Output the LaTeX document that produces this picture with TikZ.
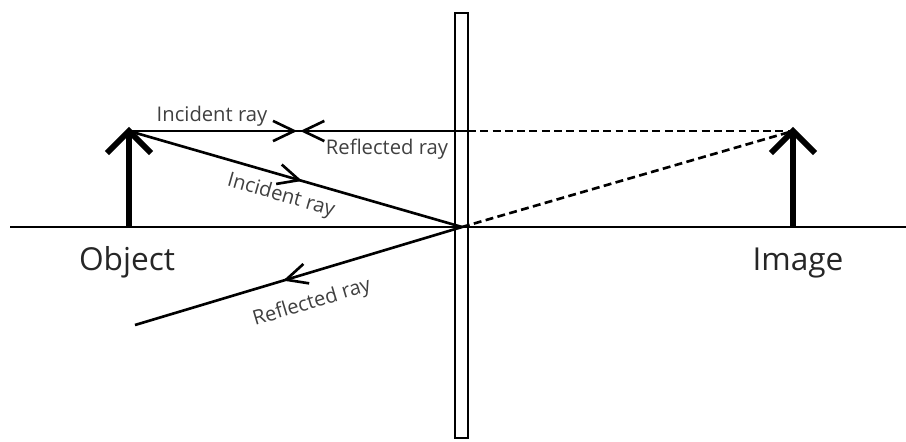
\documentclass[tikz,border=0pt]{standalone}
\usepackage{fontspec}
\setmainfont{Open Sans}
\usetikzlibrary{arrows.meta,decorations.markings}

\tikzset{
  ray/.style={line width=1.5pt},
  virtual/.style={line width=1.5pt, dash pattern=on 4.5pt off 2.5pt},
  stem/.style={line width=3.4pt},
  raylabel/.style={font=\fontsize{11.5}{13}\selectfont, text=black!75, inner sep=0pt},
  bigtext/.style={font=\fontsize{18}{21}\selectfont, text=black!85, inner sep=0pt, anchor=base},
  fwd/.style={postaction={decorate, decoration={markings,
      mark=at position #1 with {\arrow[line width=1.5pt]{Straight Barb[length=12pt,width=11.5pt]}}}}},
  bwd/.style={postaction={decorate, decoration={markings,
      mark=at position #1 with {\arrowreversed[line width=1.5pt]{Straight Barb[length=12pt,width=11.5pt]}}}}}
}

\begin{document}
\begin{tikzpicture}[x=0.02cm, y=-0.02cm]
  \useasboundingbox (0,0) rectangle (906,441);

  % Specchio e asse
  \draw[line width=1.2pt] (455,13) rectangle (468,438);
  \draw[line width=1.2pt] (10,227) -- (906,227);

  % Punti
  \coordinate (objbase) at (129,227);
  \coordinate (objtip) at (129,131);
  \coordinate (imgbase) at (793,227);
  \coordinate (imgtip) at (793,131);
  \coordinate (pole) at (462,227);
  \coordinate (hit) at (468,131);
  \coordinate (back) at (135,325);

  % Raggi
  \draw[ray, fwd=0.496, bwd=0.505] (objtip) -- (hit);
  \draw[virtual] (hit) -- (imgtip);
  \draw[ray, fwd=0.52] (objtip) -- (pole);
  \draw[ray, fwd=0.547] (pole) -- (back);
  \draw[virtual] (pole) -- (imgtip);

  % Oggetto e immagine
  \draw[stem] (objbase) -- (objtip);
  \draw[stem] (objtip) ++(-22,22) -- (objtip) -- ++(22,22);
  \draw[stem] (imgbase) -- (imgtip);
  \draw[stem] (imgtip) ++(-22,22) -- (imgtip) -- ++(22,22);

  % Etichette
  \node[raylabel] (inc1) at (212,116) {Incident ray};
  \node[raylabel] (ref1) at (387,149) {Reflected ray};
  \node[raylabel, rotate=-16] (inc2) at (281,196) {Incident ray};
  \node[raylabel, rotate=16.7] (ref2) at (312,303) {Reflected ray};
  \node[bigtext] (obj) at (127,270) {Object};
  \node[bigtext] (img) at (798,270) {Image};
\end{tikzpicture}
\end{document}
